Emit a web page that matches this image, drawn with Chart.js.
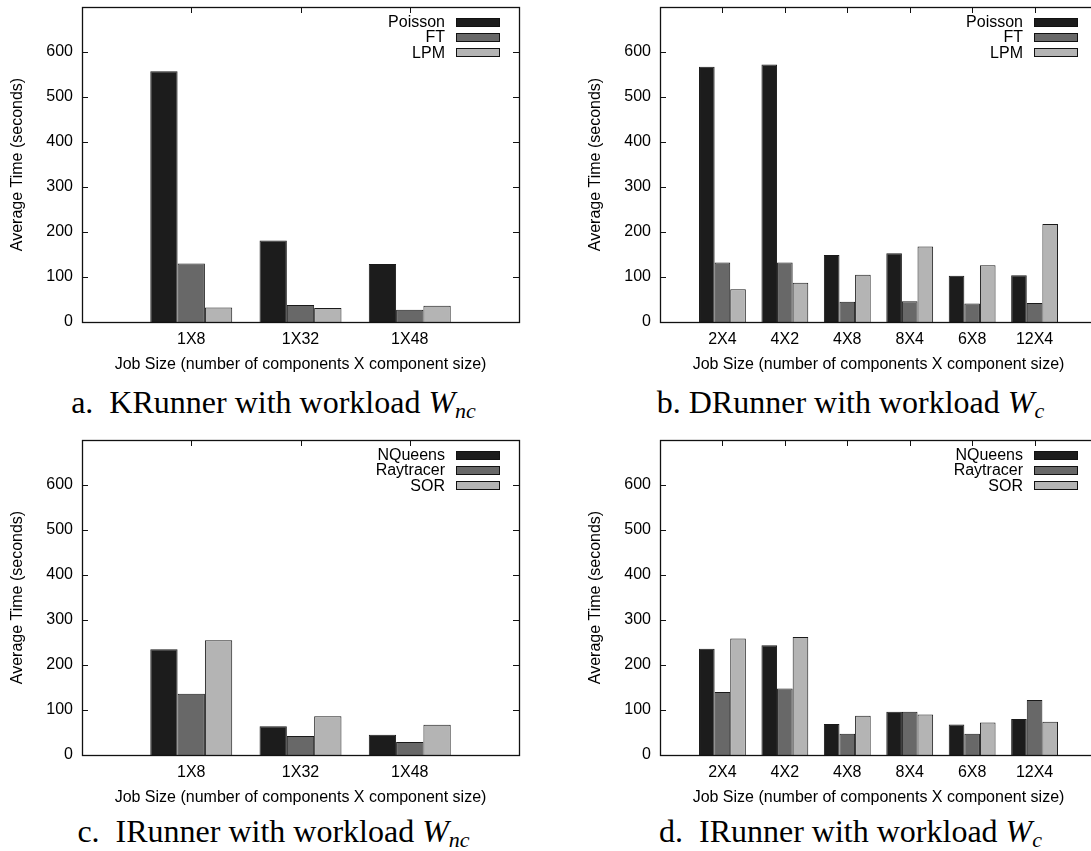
<!DOCTYPE html>
<html><head><meta charset="utf-8">
<script src="https://cdn.jsdelivr.net/npm/chart.js@4.4.1/dist/chart.umd.min.js"></script>
<style>
html,body{margin:0;padding:0;background:#fff;width:1091px;height:851px;overflow:hidden;position:relative;}
.panel{position:absolute;width:545px;height:380px;}
.cap{position:absolute;width:545px;text-align:center;font-family:"Liberation Serif","Times New Roman",serif;font-size:32px;line-height:36px;color:#000;white-space:nowrap;}
.cap i{font-style:italic;}
.cap sub{font-style:italic;font-size:22px;vertical-align:-5px;line-height:0;}
</style></head><body>
<div class="panel" style="left:0;top:0"><canvas id="ca" width="545" height="380"></canvas></div>
<div class="panel" style="left:578px;top:0"><canvas id="cb" width="545" height="380"></canvas></div>
<div class="panel" style="left:0;top:433px"><canvas id="cc" width="545" height="380"></canvas></div>
<div class="panel" style="left:578px;top:433px"><canvas id="cd" width="545" height="380"></canvas></div>
<div class="cap" style="left:1px;top:384px">a.&nbsp;&nbsp;KRunner with workload <i>W</i><sub>nc</sub></div>
<div class="cap" style="left:578px;top:384px">b.&nbsp;DRunner with workload <i>W</i><sub>c</sub></div>
<div class="cap" style="left:1px;top:813px">c.&nbsp;&nbsp;IRunner with workload <i>W</i><sub>nc</sub></div>
<div class="cap" style="left:578px;top:813px">d.&nbsp;&nbsp;IRunner with workload <i>W</i><sub>c</sub></div>
<script>
// ---- categories / tick labels ----
const jobSizesNc = ['1X8', '1X32', '1X48'];
const jobSizesC = ['2X4', '4X2', '4X8', '8X4', '6X8', '12X4'];
const yTickValues = [0, 100, 200, 300, 400, 500, 600];
const yMax = 700;
const kernelNames = ['Poisson', 'FT', 'LPM'];
const appNames = ['NQueens', 'Raytracer', 'SOR'];
const xTitle = 'Job Size (number of components X component size)';
const yTitle = 'Average Time (seconds)';

// ---- a. KRunner with workload W_nc ----
const kPoissonNc = [557, 181, 129];
const kFtNc = [130, 38, 27];
const kLpmNc = [32, 31, 36];
// ---- b. DRunner with workload W_c ----
const dPoissonC = [567, 572, 149, 153, 103, 104];
const dFtC = [132, 132, 45, 46, 41, 42];
const dLpmC = [73, 87, 105, 168, 126, 218];
// ---- c. IRunner with workload W_nc ----
const iNqueensNc = [235, 64, 45];
const iRaytracerNc = [136, 42, 29];
const iSorNc = [255, 86, 67];
// ---- d. IRunner with workload W_c ----
const iNqueensC = [236, 244, 69, 96, 68, 80];
const iRaytracerC = [140, 148, 47, 96, 47, 122];
const iSorC = [259, 262, 87, 90, 72, 74];

const seriesColors = ['#1c1c1c', '#686868', '#b4b4b4'];
const FONT = {family: '"Liberation Sans", Arial, sans-serif', size: 16};

const framePlugin = {
  id: 'frame',
  afterDraw(chart) {
    const {ctx, chartArea: {left, right, top, bottom}} = chart;
    ctx.save();
    ctx.strokeStyle = '#111';
    ctx.lineWidth = 1;
    const ys = chart.scales.y, xs = chart.scales.x;
    ctx.beginPath();
    ys.ticks.forEach(t => {
      if (t.value === 0) return;
      const py = Math.round(ys.getPixelForValue(t.value)) + 0.5;
      ctx.moveTo(left, py); ctx.lineTo(left + 6, py);
      ctx.moveTo(right - 6, py); ctx.lineTo(right, py);
    });
    chart.data.labels.forEach((l, i) => {
      if (!l) return;
      const px = Math.round(xs.getPixelForValue(i)) + 0.5;
      ctx.moveTo(px, top); ctx.lineTo(px, top + 6);
    });
    ctx.stroke();
    ctx.lineWidth = 1.3;
    ctx.strokeRect(Math.round(left) + 0.5, Math.round(top) + 0.5, Math.round(right - left), Math.round(bottom - top));
    ctx.restore();
  }
};

const legendPlugin = {
  id: 'innerLegend',
  afterDraw(chart) {
    const {ctx, chartArea: {right, top}} = chart;
    ctx.save();
    ctx.font = `${FONT.size}px ${FONT.family}`;
    ctx.textAlign = 'right';
    ctx.textBaseline = 'middle';
    chart.data.datasets.forEach((ds, i) => {
      const cy = top + 14.7 + i * 15.3;
      ctx.fillStyle = '#000';
      ctx.fillText(ds.label, right - 74, cy + 1);
      ctx.fillStyle = ds.backgroundColor;
      const x0 = Math.round(right - 63) + 0.5, y0 = Math.round(cy - 4) + 0.5;
      ctx.fillRect(x0, y0, 43, 8);
      ctx.strokeStyle = '#111';
      ctx.lineWidth = 1;
      ctx.strokeRect(x0, y0, 43, 8);
    });
    ctx.restore();
  }
};

function makePanel(id, cats, names, series) {
  const labels = ['', ...cats, ''];
  const datasets = names.map((n, i) => ({
    label: n,
    data: [null, ...series[i], null],
    backgroundColor: seriesColors[i],
    borderColor: '#1a1a1a',
    borderWidth: 1,
    borderSkipped: 'bottom',
    categoryPercentage: 0.75,
    barPercentage: 1
  }));
  new Chart(document.getElementById(id), {
    type: 'bar',
    data: {labels, datasets},
    options: {
      responsive: false,
      animation: false,
      devicePixelRatio: 1,
      layout: {padding: {top: 7, right: 26, left: 0, bottom: 0}},
      plugins: {legend: {display: false}, tooltip: {enabled: false}},
      scales: {
        x: {
          type: 'category', offset: false,
          grid: {display: false, drawTicks: false}, border: {display: false},
          ticks: {color: '#000', font: FONT, padding: 8, autoSkip: false, maxRotation: 0},
          title: {display: true, text: xTitle, color: '#000', font: FONT, padding: {top: 0, bottom: 6}},
          afterFit(s) { s.height = 58; s.paddingLeft = 0; s.paddingRight = 0; }
        },
        y: {
          min: 0, max: yMax,
          grid: {display: false, drawTicks: false}, border: {display: false},
          ticks: {color: '#000', font: FONT, padding: 9},
          afterBuildTicks(s) { s.ticks = yTickValues.map(v => ({value: v})); },
          title: {display: true, text: yTitle, color: '#000', font: FONT, padding: {top: 8, bottom: 0}},
          afterFit(s) { s.width = 82; s.paddingTop = 0; s.paddingBottom = 0; }
        }
      }
    },
    plugins: [framePlugin, legendPlugin]
  });
}

makePanel('ca', jobSizesNc, kernelNames, [kPoissonNc, kFtNc, kLpmNc]);
makePanel('cb', jobSizesC, kernelNames, [dPoissonC, dFtC, dLpmC]);
makePanel('cc', jobSizesNc, appNames, [iNqueensNc, iRaytracerNc, iSorNc]);
makePanel('cd', jobSizesC, appNames, [iNqueensC, iRaytracerC, iSorC]);
</script>
</body></html>
